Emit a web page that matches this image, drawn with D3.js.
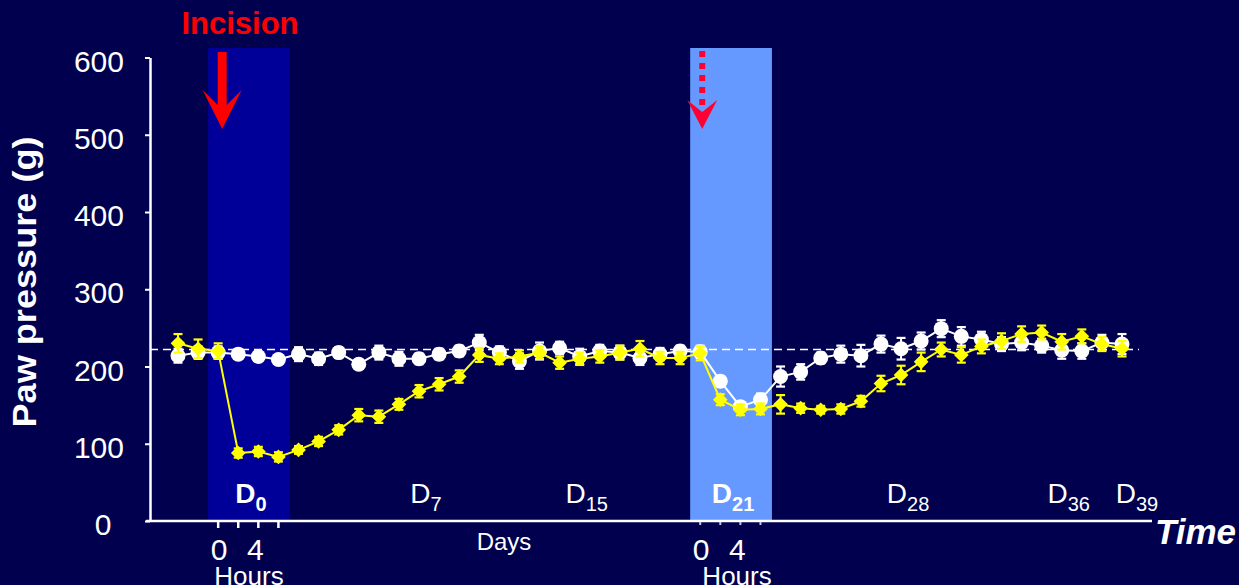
<!DOCTYPE html>
<html>
<head>
<meta charset="utf-8">
<script src="https://cdn.jsdelivr.net/npm/d3@7"></script>
<style>
  html, body { margin: 0; padding: 0; background: #00004e; }
  svg { display: block; }
</style>
</head>
<body>
<svg id="chart" width="1239" height="585"></svg>
<script>
// Time points: two pre-surgery baselines, hourly readings on D0 and D21, daily readings otherwise
const categories = [
  "Pre 1", "Pre 2",
  "D0 0h", "D0 2h", "D0 4h", "D0 6h",
  "D1", "D2", "D3", "D4", "D5", "D6", "D7", "D8", "D9", "D10",
  "D11", "D12", "D13", "D14", "D15", "D16", "D17", "D18", "D19", "D20",
  "D21 0h", "D21 2h", "D21 4h", "D21 6h",
  "D22", "D23", "D24", "D25", "D26", "D27", "D28", "D29", "D30", "D31",
  "D32", "D33", "D34", "D35", "D36", "D37", "D38", "D39"
];

// Paw pressure threshold (g), mean and SEM — sham group (white)
const shamMean = [
  214, 218, 218, 216, 213, 209, 216, 210, 218, 203,
  218, 210, 210, 216, 220, 231, 218, 207, 220, 224,
  213, 220, 218, 211, 216, 220, 219, 181, 148, 157,
  187, 193, 211, 216, 214, 229, 223, 233, 249, 239,
  235, 229, 231, 227, 221, 220, 231, 229
];
const shamSem = [
  9, 8, 8, 6, 6, 6, 9, 8, 7, 6,
  9, 9, 7, 7, 7, 10, 8, 10, 11, 8,
  10, 8, 9, 9, 8, 7, 8, 6, 6, 8,
  13, 10, 7, 11, 14, 11, 14, 11, 11, 12,
  10, 9, 10, 9, 11, 10, 10, 13
];

// Paw pressure threshold (g), mean and SEM — incised group (yellow)
const incisionMean = [
  230, 223, 220, 88, 90, 83, 92, 103, 118, 137,
  135, 151, 168, 177, 187, 215, 210, 213, 218, 205,
  210, 213, 218, 223, 211, 211, 217, 157, 144, 145,
  151, 146, 144, 145, 155, 178, 189, 206, 222, 215,
  226, 233, 242, 244, 232, 239, 229, 223
];
const incisionSem = [
  12, 12, 10, 6, 6, 6, 5, 6, 6, 8,
  8, 7, 8, 8, 8, 9, 7, 8, 8, 8,
  8, 8, 9, 10, 8, 8, 9, 7, 7, 7,
  12, 6, 5, 6, 7, 10, 12, 12, 9, 10,
  9, 10, 10, 9, 10, 9, 9, 10
];

const yTicks = [0, 100, 200, 300, 400, 500, 600];
const baselineLevel = 222;

// Shaded hourly windows
const hourWindows = [
  ["D0 0h", "D0 2h", "D0 4h", "D0 6h"],
  ["D21 0h", "D21 2h", "D21 4h", "D21 6h"]
];
const hourTickLabels = ["0", "", "4", ""];

// Day annotations along the axis
const dayLabels = [
  { sub: "0", at: "D0 0h", window: 0 },
  { sub: "7", at: "D7" },
  { sub: "15", at: "D15" },
  { sub: "21", at: "D21 0h", window: 1 },
  { sub: "28", at: "D28" },
  { sub: "36", at: "D36" },
  { sub: "39", at: "D39" }
];

const FONT = "'Liberation Sans', Arial, Helvetica, sans-serif";
const W = 1239, H = 585;
const svg = d3.select("#chart");

svg.append("rect").attr("width", W).attr("height", H).attr("fill", "#00004e");

const x = d3.scalePoint().domain(categories).range([178, 1122]);
const step = x.step();
const y = d3.scaleLinear().domain([0, 600]).range([521, 57.5]);

// --- shaded windows ---
const windowFill = ["#000099", "#6699ff"];
const windowSpan = hourWindows.map(w => {
  const x0 = x(w[0]) - 0.5 * step;
  const x1 = x(w[w.length - 1]) + 0.57 * step;
  return [x0, x1];
});
windowSpan.forEach((s, i) => {
  svg.append("rect")
    .attr("x", s[0]).attr("y", 48)
    .attr("width", s[1] - s[0]).attr("height", y(0) - 48)
    .attr("fill", windowFill[i]);
});

// --- baseline reference line ---
svg.append("line")
  .attr("x1", 150).attr("x2", x(categories[categories.length - 1]) + 17)
  .attr("y1", y(baselineLevel)).attr("y2", y(baselineLevel))
  .attr("stroke", "#ffffff").attr("stroke-width", 1.6)
  .attr("stroke-dasharray", "8,5");

// --- y axis ---
const yAxis = svg.append("g")
  .attr("transform", "translate(150,0)")
  .call(d3.axisLeft(y).tickValues(yTicks).tickSize(5).tickSizeOuter(0).tickPadding(21));
yAxis.select(".domain").attr("stroke", "#ffffff").attr("stroke-width", 2.5);
yAxis.selectAll(".tick line").attr("stroke", "#ffffff").attr("stroke-width", 2);
yAxis.selectAll(".tick text")
  .attr("fill", "#ffffff")
  .style("font-family", FONT).style("font-size", "30px")
  .attr("dy", "0.45em");
yAxis.selectAll(".tick text").filter(d => d === 0)
  .attr("text-anchor", "middle").attr("x", -47);

// --- x axis line ---
svg.append("line")
  .attr("x1", 146).attr("x2", 1152)
  .attr("y1", y(0)).attr("y2", y(0))
  .attr("stroke", "#ffffff").attr("stroke-width", 2.5);

// hour ticks inside the windows
hourWindows.forEach((w, i) => {
  svg.selectAll(null).data(w).enter().append("line")
    .attr("x1", d => x(d)).attr("x2", d => x(d))
    .attr("y1", y(0) + 1).attr("y2", y(0) + (i === 0 ? 7 : 4))
    .attr("stroke", i === 0 ? "#ffffff" : "#c8c8dc")
    .attr("stroke-width", i === 0 ? 2.5 : 2);
  svg.selectAll(null).data(w.filter((d, j) => hourTickLabels[j] !== "")).enter().append("text")
    .attr("x", (d, j) => x(d) + (j === 0 ? 1 : -3))
    .attr("y", 560)
    .attr("text-anchor", "middle")
    .attr("fill", "#ffffff")
    .style("font-family", FONT).style("font-size", "30px")
    .text((d, j) => j === 0 ? "0" : "4");
  const span = windowSpan[i];
  svg.append("text")
    .attr("x", (span[0] + span[1]) / 2 + (i === 1 ? 6 : 0))
    .attr("y", 585)
    .attr("text-anchor", "middle")
    .attr("fill", "#ffffff")
    .style("font-family", FONT).style("font-size", "26px")
    .text("Hours");
});

svg.append("text")
  .attr("x", 504).attr("y", 550)
  .attr("text-anchor", "middle")
  .attr("fill", "#ffffff")
  .style("font-family", FONT).style("font-size", "24px")
  .text("Days");

svg.append("text")
  .attr("x", 1155).attr("y", 544)
  .attr("fill", "#ffffff")
  .style("font-family", FONT).style("font-size", "35px")
  .style("font-weight", "bold").style("font-style", "italic")
  .text("Time");

// day labels with subscripts
dayLabels.forEach((d, i) => {
  let cx;
  if (d.window !== undefined) {
    const s = windowSpan[d.window];
    cx = (s[0] + s[1]) / 2 + 2;
  } else {
    cx = x(d.at) + (i === dayLabels.length - 1 ? 15 : 7);
  }
  const t = svg.append("text")
    .attr("x", cx).attr("y", 503)
    .attr("text-anchor", "middle")
    .attr("fill", "#ffffff")
    .style("font-family", FONT)
    .style("font-weight", d.window !== undefined ? "bold" : "normal");
  t.append("tspan").style("font-size", "28px").text("D");
  t.append("tspan").style("font-size", "20px").attr("dy", 8).text(d.sub);
});

// y axis title
svg.append("text")
  .attr("transform", "translate(36,282) rotate(-90)")
  .attr("text-anchor", "middle")
  .attr("fill", "#ffffff")
  .style("font-family", FONT).style("font-size", "33px").style("font-weight", "bold")
  .attr("textLength", 291).attr("lengthAdjust", "spacingAndGlyphs")
  .text("Paw pressure (g)");

// --- series ---
function drawSeries(mean, sem, color, marker) {
  const pts = categories.map((c, i) => ({ c, v: mean[i], e: sem[i] }));
  const g = svg.append("g");
  g.append("path")
    .datum(pts)
    .attr("fill", "none")
    .attr("stroke", color).attr("stroke-width", 2)
    .attr("d", d3.line().x(d => x(d.c)).y(d => y(d.v)));
  const eb = g.selectAll(null).data(pts).enter().append("g");
  eb.append("line")
    .attr("x1", d => x(d.c)).attr("x2", d => x(d.c))
    .attr("y1", d => y(d.v - d.e)).attr("y2", d => y(d.v + d.e))
    .attr("stroke", color).attr("stroke-width", 2);
  [1, -1].forEach(sign => {
    eb.append("line")
      .attr("x1", d => x(d.c) - 4.5).attr("x2", d => x(d.c) + 4.5)
      .attr("y1", d => y(d.v + sign * d.e)).attr("y2", d => y(d.v + sign * d.e))
      .attr("stroke", color).attr("stroke-width", 2.2);
  });
  if (marker === "circle") {
    g.selectAll(null).data(pts).enter().append("circle")
      .attr("cx", d => x(d.c)).attr("cy", d => y(d.v)).attr("r", 7.5)
      .attr("fill", color);
  } else {
    const sym = d3.symbol().type(d3.symbolSquare).size(108);
    g.selectAll(null).data(pts).enter().append("path")
      .attr("d", sym)
      .attr("transform", d => `translate(${x(d.c)},${y(d.v)}) rotate(45)`)
      .attr("fill", color);
  }
}
drawSeries(shamMean, shamSem, "#ffffff", "circle");
drawSeries(incisionMean, incisionSem, "#ffff00", "diamond");

// --- annotations ---
svg.append("text")
  .attr("x", 240).attr("y", 34)
  .attr("text-anchor", "middle")
  .attr("fill", "#ff0000")
  .style("font-family", FONT).style("font-size", "31px").style("font-weight", "bold")
  .text("Incision");

// solid arrow at the incision
const ax = x("D0 0h") + 4;
svg.append("path")
  .attr("d", `M${ax - 4.5},52 L${ax + 4.5},52 L${ax + 4.5},105 L${ax + 19.5},90 L${ax},129 L${ax - 19.5},90 L${ax - 4.5},105 Z`)
  .attr("fill", "#ff0000");

// dotted arrow at the second window
const bx = x("D21 0h") + 2;
[54, 66, 78, 90, 102].forEach(cy => {
  svg.append("rect")
    .attr("x", bx - 3).attr("y", cy - 3).attr("width", 6).attr("height", 6)
    .attr("fill", "#ff0033");
});
svg.append("path")
  .attr("d", `M${bx - 15},100 L${bx},112 L${bx + 15},100 L${bx},129 Z`)
  .attr("fill", "#ff0033");
</script>
</body>
</html>
